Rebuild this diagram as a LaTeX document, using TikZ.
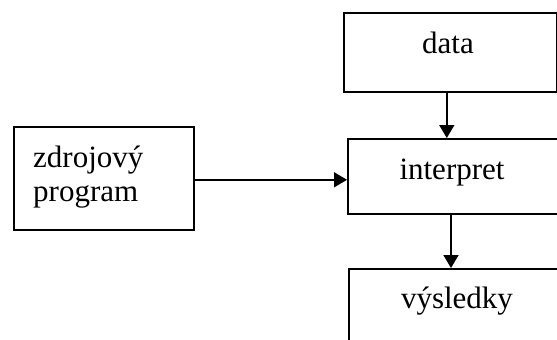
\documentclass[tikz,border=0pt]{standalone}
\usepackage{fontspec}
\setmainfont{Liberation Serif}
\usetikzlibrary{arrows.meta}
\begin{document}
\begin{tikzpicture}[x=1pt,y=-1pt,
  box/.style={draw,line width=1.6pt,rectangle,inner sep=0pt,anchor=north west},
  lbl/.style={inner sep=0pt,font=\fontsize{31}{35}\selectfont},
  arr/.style={line width=1.6pt,-{Triangle[length=13pt,width=15pt]}}]
\useasboundingbox (0,0) rectangle (557,340);
\clip (0,0) rectangle (557,340);
% boxes
\node[box,minimum width=213pt,minimum height=79pt] (data) at (343,12) {};
\node[box,minimum width=300pt,minimum height=75pt] (interp) at (347,138) {};
\node[box,minimum width=300pt,minimum height=120pt] (vysl) at (348,268) {};
\node[box,minimum width=180pt,minimum height=103pt] (zdroj) at (13,126) {};
% labels
\node[lbl,anchor=base] (tdata) at (448,53) {data};
\node[lbl,anchor=base] (tinterp) at (452,179) {interpret};
\node[lbl,anchor=base] (tvysl) at (457,308) {výsledky};
\node[lbl,anchor=base west] (tzdroj1) at (33,167) {zdrojový};
\node[lbl,anchor=base west] (tzdroj2) at (33,201) {program};
% connectors
\draw[arr] ([xshift=-3.5pt]data.south) -- ([xshift=-3.5pt]data.south |- interp.north);
\draw[arr] ([xshift=104pt]interp.south west) -- ([xshift=104pt]interp.south west |- vysl.north);
\draw[arr] ([yshift=-1.5pt]zdroj.east) -- ([yshift=-1.5pt]zdroj.east -| interp.west);
\end{tikzpicture}
\end{document}
